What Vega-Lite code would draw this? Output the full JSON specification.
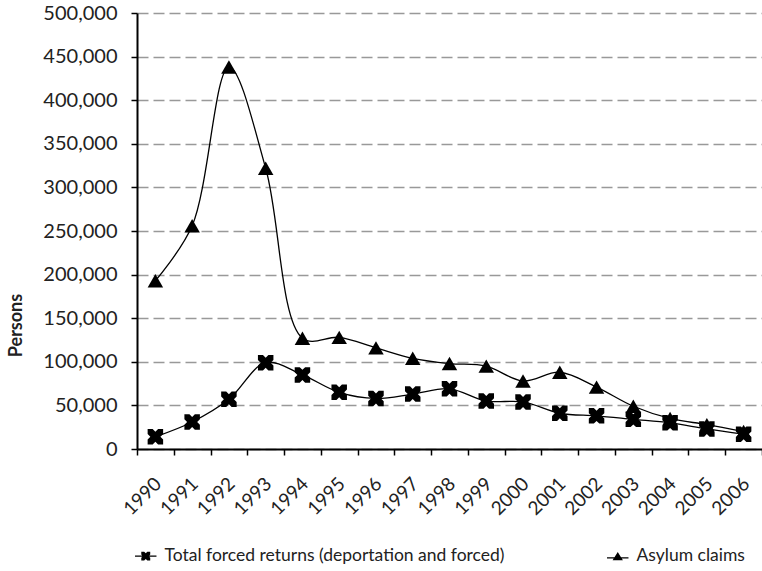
{
  "$schema": "https://vega.github.io/schema/vega-lite/v6.json",
  "width": 625,
  "height": 436,
  "autosize": {"type": "none"},
  "padding": {"left": 137, "top": 13, "right": 0, "bottom": 122},
  "background": "white",
  "config": {
    "font": "Lato",
    "view": {"stroke": null}
  },
  "data": {
    "values": [
      {"year": "1990", "series": "Total forced returns (deportation and forced)", "value": 14000},
      {"year": "1991", "series": "Total forced returns (deportation and forced)", "value": 31000},
      {"year": "1992", "series": "Total forced returns (deportation and forced)", "value": 57000},
      {"year": "1993", "series": "Total forced returns (deportation and forced)", "value": 99000},
      {"year": "1994", "series": "Total forced returns (deportation and forced)", "value": 85000},
      {"year": "1995", "series": "Total forced returns (deportation and forced)", "value": 65000},
      {"year": "1996", "series": "Total forced returns (deportation and forced)", "value": 58000},
      {"year": "1997", "series": "Total forced returns (deportation and forced)", "value": 63000},
      {"year": "1998", "series": "Total forced returns (deportation and forced)", "value": 69000},
      {"year": "1999", "series": "Total forced returns (deportation and forced)", "value": 55000},
      {"year": "2000", "series": "Total forced returns (deportation and forced)", "value": 54000},
      {"year": "2001", "series": "Total forced returns (deportation and forced)", "value": 41000},
      {"year": "2002", "series": "Total forced returns (deportation and forced)", "value": 38000},
      {"year": "2003", "series": "Total forced returns (deportation and forced)", "value": 34000},
      {"year": "2004", "series": "Total forced returns (deportation and forced)", "value": 30000},
      {"year": "2005", "series": "Total forced returns (deportation and forced)", "value": 23000},
      {"year": "2006", "series": "Total forced returns (deportation and forced)", "value": 17000},
      {"year": "1990", "series": "Asylum claims", "value": 193000},
      {"year": "1991", "series": "Asylum claims", "value": 256000},
      {"year": "1992", "series": "Asylum claims", "value": 438000},
      {"year": "1993", "series": "Asylum claims", "value": 322000},
      {"year": "1994", "series": "Asylum claims", "value": 127000},
      {"year": "1995", "series": "Asylum claims", "value": 128000},
      {"year": "1996", "series": "Asylum claims", "value": 116000},
      {"year": "1997", "series": "Asylum claims", "value": 104000},
      {"year": "1998", "series": "Asylum claims", "value": 98000},
      {"year": "1999", "series": "Asylum claims", "value": 95000},
      {"year": "2000", "series": "Asylum claims", "value": 78000},
      {"year": "2001", "series": "Asylum claims", "value": 88000},
      {"year": "2002", "series": "Asylum claims", "value": 71000},
      {"year": "2003", "series": "Asylum claims", "value": 49000},
      {"year": "2004", "series": "Asylum claims", "value": 35000},
      {"year": "2005", "series": "Asylum claims", "value": 28000},
      {"year": "2006", "series": "Asylum claims", "value": 20000}
    ]
  },
  "encoding": {
    "x": {
      "field": "year",
      "type": "ordinal",
      "scale": {"type": "band", "paddingInner": 0, "paddingOuter": 0},
      "axis": {
        "title": null,
        "labelAngle": -45,
        "labelAlign": "right",
        "labelBaseline": "top",
        "labelFontSize": 19,
        "labelColor": "#222",
        "labelPadding": 19,
        "labelOffset": -4,
        "tickBand": "extent",
        "tickColor": "black",
        "tickSize": 6,
        "tickWidth": 1.5,
        "domainColor": "black",
        "domainWidth": 2,
        "grid": false
      }
    },
    "y": {
      "field": "value",
      "type": "quantitative",
      "scale": {"domain": [0, 500000]},
      "axis": {
        "title": "Persons",
        "titleFontSize": 18,
        "titleFontWeight": "bold",
        "titleColor": "#222",
        "titlePadding": 17,
        "titleY": 312,
        "values": [0, 50000, 100000, 150000, 200000, 250000, 300000, 350000, 400000, 450000, 500000],
        "format": ",d",
        "labelFontSize": 20,
        "labelColor": "#222",
        "labelPadding": 14,
        "tickColor": "black",
        "tickSize": 6,
        "tickWidth": 1.5,
        "domainColor": "black",
        "domainWidth": 2,
        "grid": true,
        "gridColor": "#999",
        "gridDash": [11, 5],
        "gridWidth": 1.5
      }
    }
  },
  "resolve": {"scale": {"shape": "independent"}},
  "layer": [
    {
      "mark": {"type": "line", "interpolate": "catmull-rom", "strokeWidth": 1.3, "color": "black"},
      "encoding": {"detail": {"field": "series"}}
    },
    {
      "mark": {"type": "point", "filled": true, "opacity": 1, "color": "black", "size": 240},
      "encoding": {
        "shape": {
          "field": "series",
          "type": "nominal",
          "scale": {
            "domain": ["Total forced returns (deportation and forced)", "Asylum claims"],
            "range": ["M-1,-1L-0.35,-1L0,-0.65L0.35,-1L1,-1L1,-0.35L0.65,0L1,0.35L1,1L0.35,1L0,0.65L-0.35,1L-1,1L-1,0.35L-0.65,0L-1,-0.35Z", "triangle-up"]
          },
          "legend": null
        }
      }
    },
    {
      "mark": {"type": "point", "filled": true, "opacity": 0, "color": "black", "size": 10},
      "encoding": {
        "shape": {
          "field": "series",
          "type": "nominal",
          "scale": {
            "domain": ["Total forced returns (deportation and forced)", "Asylum claims"],
            "range": ["M-2.4,-0.15L2.4,-0.15L2.4,0.15L-2.4,0.15ZM-1,-1L-0.35,-1L0,-0.65L0.35,-1L1,-1L1,-0.35L0.65,0L1,0.35L1,1L0.35,1L0,0.65L-0.35,1L-1,1L-1,0.35L-0.65,0L-1,-0.35Z", "M-2.4,0.25L2.4,0.25L2.4,0.55L-2.4,0.55ZM0,-0.9L1.15,0.95L-1.15,0.95Z"]
          },
          "legend": {
            "title": null,
            "orient": "bottom",
            "direction": "horizontal",
            "labelFontSize": 17.5,
            "labelColor": "#222",
            "labelLimit": 800,
            "symbolSize": 80,
            "symbolOpacity": 1,
            "labelOffset": 10,
            "columnPadding": 100,
            "symbolFillColor": "black",
            "symbolStrokeColor": "black",
            "symbolStrokeWidth": 1,
            "offset": 28,
            "encode": {
              "symbols": {
                "fill": {"value": "black"},
                "stroke": {"value": "black"},
                "strokeWidth": {"value": 1},
                "opacity": {"value": 1}
              }
            }
          }
        }
      }
    }
  ]
}
